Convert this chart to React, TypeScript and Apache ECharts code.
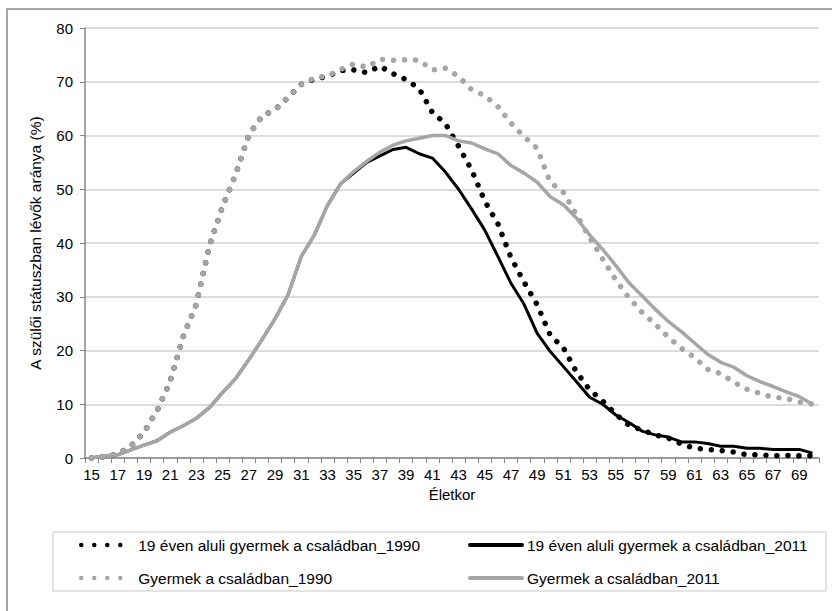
import React, { useEffect, useRef } from "react";
import * as echarts from "echarts";

const ages = [
  "15","16","17","18","19","20","21","22","23","24","25","26","27","28","29","30",
  "31","32","33","34","35","36","37","38","39","40","41","42","43","44","45","46",
  "47","48","49","50","51","52","53","54","55","56","57","58","59","60","61","62",
  "63","64","65","66","67","68","69","70",
];

const under19_1990 = [
  0, 0.2, 0.8, 2.2, 4.8, 8.8, 14.3, 22.6, 28.7, 39.6, 46.8, 52.8, 60.1, 63.6, 64.8, 67.1,
  69.5, 70.5, 71.0, 72.1, 72.2, 71.7, 72.9, 71.5, 70.4, 68.7, 64.3, 62.2, 58.0, 53.6, 47.8, 43.6,
  37.3, 32.7, 28.5, 22.8, 20.5, 16.0, 12.7, 10.6, 8.1, 6.1, 5.2, 4.3, 3.7, 2.6, 1.8, 1.6,
  1.4, 1.1, 0.6, 0.6, 0.4, 0.5, 0.4, 0.4,
];

const under19_2011 = [
  0, 0.4, 0.6, 1.5, 2.4, 3.2, 4.8, 6.0, 7.4, 9.4, 12.2, 14.8, 18.3, 22.0, 25.9, 30.4,
  37.5, 41.5, 47.0, 51.0, 53.0, 55.0, 56.2, 57.4, 57.8, 56.6, 55.8, 53.2, 50.0, 46.3, 42.4, 37.5,
  32.5, 28.6, 23.2, 19.8, 17.0, 14.2, 11.3, 10.0, 8.0, 6.6, 5.0, 4.3, 3.9, 3.0, 3.0, 2.7,
  2.2, 2.2, 1.8, 1.8, 1.6, 1.6, 1.6, 0.9,
];

const child_1990 = [
  0, 0.2, 0.8, 2.2, 4.8, 8.8, 14.3, 22.6, 28.7, 39.6, 46.8, 52.8, 60.1, 63.6, 64.8, 67.1,
  69.5, 70.7, 71.1, 72.3, 73.3, 72.7, 74.2, 74.0, 74.1, 74.0, 72.2, 72.5, 71.0, 68.5, 67.4, 65.4,
  62.3, 59.8, 57.6, 51.3, 49.4, 45.2, 41.0, 37.0, 33.1, 29.8, 27.1, 24.9, 22.5, 20.4, 18.7, 16.5,
  15.7, 14.1, 12.8, 12.0, 11.3, 11.1, 10.4, 10.0,
];

const child_2011 = [
  0, 0.4, 0.6, 1.5, 2.4, 3.2, 4.8, 6.0, 7.4, 9.4, 12.2, 14.8, 18.3, 22.0, 25.9, 30.4,
  37.5, 41.5, 47.0, 51.0, 53.3, 55.2, 56.9, 58.2, 59.0, 59.5, 60.0, 60.0, 59.0, 58.6, 57.5, 56.6,
  54.4, 53.0, 51.3, 48.6, 47.1, 44.6, 41.5, 38.8, 35.8, 32.6, 30.2, 27.7, 25.4, 23.5, 21.4, 19.3,
  17.8, 16.9, 15.3, 14.2, 13.3, 12.3, 11.4, 10.0,
];

const seriesNames = [
  "19 éven aluli gyermek a családban_1990",
  "19 éven aluli gyermek a családban_2011",
  "Gyermek a családban_1990",
  "Gyermek a családban_2011",
];

const FONT = "Liberation Sans, Arial, sans-serif";
const GRAY = "#A6A6A6";

export default function App() {
  const ref = useRef<HTMLDivElement>(null);

  useEffect(() => {
    if (!ref.current) return;
    const chart = echarts.init(ref.current, undefined, { renderer: "svg" });
    const dotStyle = (color: string) => ({
      color,
      width: 5.5,
      type: [0.01, 11] as any,
      cap: "round" as const,
    });
    const legendCommon = {
      orient: "vertical" as const,
      padding: 0,
      itemWidth: 52,
      itemHeight: 16,
      itemGap: 17,
      itemStyle: { opacity: 0 },
      textStyle: { fontFamily: FONT, fontSize: 15.5, color: "#000", lineHeight: 16 },
    };
    chart.setOption({
      animation: false,
      backgroundColor: "#fff",
      textStyle: { fontFamily: FONT },
      grid: { left: 85, right: 13, top: 28, bottom: 153, containLabel: false },
      graphic: [
        {
          type: "rect",
          shape: { x: 7, y: 9, width: 840, height: 620 },
          style: { fill: "none", stroke: "#888", lineWidth: 1.5 },
          silent: true,
        },
        {
          type: "rect",
          shape: { x: 53, y: 532, width: 773, height: 59 },
          style: { fill: "none", stroke: "#C8C8C8", lineWidth: 1 },
          silent: true,
        },
      ],
      legend: [
        {
          ...legendCommon,
          left: 79,
          top: 537,
          lineStyle: { width: 4.5, cap: "round", type: [0.01, 13] },
          data: [seriesNames[0], seriesNames[2]],
        },
        {
          ...legendCommon,
          left: 468,
          top: 537,
          lineStyle: { width: 4, cap: "round" },
          data: [seriesNames[1], seriesNames[3]],
        },
      ],
      xAxis: {
        type: "category",
        data: ages,
        boundaryGap: true,
        name: "Életkor",
        nameLocation: "middle",
        nameGap: 26,
        nameTextStyle: { fontFamily: FONT, fontSize: 15, color: "#000" },
        axisLine: { lineStyle: { color: "#868686", width: 1.5 } },
        axisTick: { show: true, interval: 0, length: 5, lineStyle: { color: "#868686" } },
        axisLabel: { interval: 1, fontFamily: FONT, fontSize: 15, color: "#000", margin: 9 },
        splitLine: { show: false },
      },
      yAxis: {
        type: "value",
        min: 0,
        max: 80,
        interval: 10,
        name: "A szülői státuszban lévők aránya (%)",
        nameLocation: "middle",
        nameGap: 42,
        nameTextStyle: { fontFamily: FONT, fontSize: 15.5, color: "#000" },
        axisLine: { show: true, lineStyle: { color: "#868686", width: 1.5 } },
        axisTick: { show: true, length: 5, lineStyle: { color: "#868686" } },
        axisLabel: { fontFamily: FONT, fontSize: 15, color: "#000", margin: 12 },
        splitLine: { show: true, lineStyle: { color: "#D0D0D0", width: 1.5 } },
      },
      series: [
        {
          name: seriesNames[0],
          type: "line",
          data: under19_1990,
          symbol: "none",
          lineStyle: dotStyle("#000"),
          itemStyle: { color: "#000" },
          z: 2,
        },
        {
          name: seriesNames[1],
          type: "line",
          data: under19_2011,
          symbol: "none",
          lineStyle: { color: "#000", width: 3 },
          itemStyle: { color: "#000" },
          z: 3,
        },
        {
          name: seriesNames[2],
          type: "line",
          data: child_1990,
          symbol: "none",
          lineStyle: dotStyle(GRAY),
          itemStyle: { color: GRAY },
          z: 4,
        },
        {
          name: seriesNames[3],
          type: "line",
          data: child_2011,
          symbol: "none",
          lineStyle: { color: GRAY, width: 3.5 },
          itemStyle: { color: GRAY },
          z: 5,
        },
      ],
    });
    return () => chart.dispose();
  }, []);

  return (
    <div
      ref={ref}
      style={{ position: "absolute", left: 0, top: 0, width: 832, height: 611 }}
    />
  );
}
